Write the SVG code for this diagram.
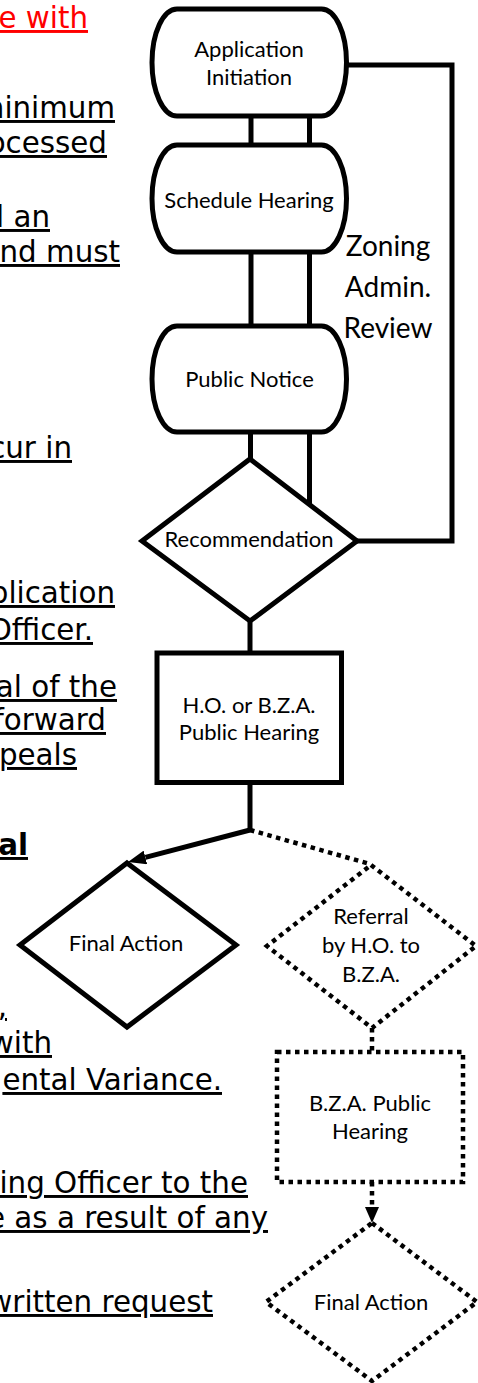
<svg xmlns="http://www.w3.org/2000/svg" width="478" height="1383" viewBox="0 0 478 1383">
<style>
.doc{font-family:"DejaVu Sans",Verdana,sans-serif;font-size:29.33px;fill:#000;text-decoration:underline;text-decoration-thickness:2px;text-anchor:end}
.red{fill:#ff0000}
.b{font-weight:bold;text-decoration-thickness:3px}
.n{fill:#fff;stroke:#000;stroke-width:5}
.d{fill:#fff;stroke:#000;stroke-width:4.5;stroke-dasharray:4.5 4.5}
.t{font-family:Lato,"Open Sans",sans-serif;font-size:22px;fill:#000;text-anchor:middle}
.big{font-size:28px}
.c{fill:none;stroke:#000;stroke-width:5;stroke-linejoin:miter}
.cd{fill:none;stroke:#000;stroke-width:4.5;stroke-dasharray:4.5 4.5}
</style>
<defs>
<marker id="arr" viewBox="0 0 18 14" refX="0" refY="7" markerWidth="18" markerHeight="14" markerUnits="userSpaceOnUse" orient="auto">
<path d="M0,0 L18,7 L0,14 z" fill="#000"/>
</marker>
<marker id="arr2" viewBox="0 0 16 14" refX="0" refY="7" markerWidth="16" markerHeight="14" markerUnits="userSpaceOnUse" orient="auto">
<path d="M0,0 L16,7 L0,14 z" fill="#000"/>
</marker>
</defs>
<rect width="478" height="1383" fill="#fff"/>

<g id="document-text">
<text class="doc red" x="88" y="28">e with</text>
<text class="doc" x="115" y="118">minimum</text>
<text class="doc" x="107" y="153">ocessed</text>
<text class="doc" x="50" y="227">l an</text>
<text class="doc" x="120" y="262">nd must</text>
<text class="doc" x="72" y="458">cur in</text>
<text class="doc" x="115" y="603">plication</text>
<text class="doc" x="93" y="640">Officer.</text>
<text class="doc" x="117" y="697">al of the</text>
<text class="doc" x="106" y="730">forward</text>
<text class="doc" x="77" y="765">peals</text>
<text class="doc b" x="28" y="855">al</text>
<text class="doc" x="7" y="1016">,</text>
<text class="doc" x="52" y="1053">with</text>
<text class="doc" x="222" y="1090">ental Variance.</text>
<text class="doc" x="248" y="1193">ing Officer to the</text>
<text class="doc" x="268" y="1228">e as a result of any</text>
<text class="doc" x="213" y="1312">written request</text>
</g>

<g id="connectors">
<line class="c" x1="251" y1="116" x2="251" y2="145"/>
<line class="c" x1="309.5" y1="116" x2="309.5" y2="145"/>
<line class="c" x1="251" y1="252" x2="251" y2="326"/>
<line class="c" x1="309.5" y1="252" x2="309.5" y2="326"/>
<line class="c" x1="250.5" y1="432" x2="250.5" y2="459"/>
<line class="c" x1="309.5" y1="432" x2="309.5" y2="505"/>
<polyline class="c" points="346,65 452,65 452,541 357,541"/>
<line class="c" x1="250" y1="621" x2="250" y2="653"/>
<line class="c" x1="250" y1="782" x2="250" y2="832"/>
<line class="c" x1="250" y1="830" x2="145.4" y2="857.4" marker-end="url(#arr)"/>
<line class="cd" x1="250" y1="830" x2="370" y2="864"/>
<line class="cd" x1="372" y1="1028" x2="372" y2="1052"/>
<line class="cd" x1="372" y1="1182" x2="372" y2="1207" marker-end="url(#arr2)"/>
<text class="t big" x="388" y="256">Zoning</text>
<text class="t big" x="388" y="297">Admin.</text>
<text class="t big" x="388" y="338">Review</text>
</g>

<g id="application-initiation">
<rect class="n" x="152" y="9" width="194.5" height="107" rx="25" ry="53.5"/>
<text class="t" x="249" y="57">Application</text>
<text class="t" x="249" y="85">Initiation</text>
</g>

<g id="schedule-hearing">
<rect class="n" x="152" y="145" width="194.5" height="107" rx="25" ry="53.5"/>
<text class="t" x="249" y="207.5">Schedule Hearing</text>
</g>

<g id="public-notice">
<rect class="n" x="152" y="326" width="194.5" height="106" rx="25" ry="53"/>
<text class="t" x="249.5" y="387">Public Notice</text>
</g>

<g id="recommendation">
<polygon class="n" points="250,459 357,541 250,621 142,541"/>
<text class="t" x="249" y="547">Recommendation</text>
</g>

<g id="public-hearing">
<rect class="n" x="157" y="653" width="184.5" height="129.5"/>
<text class="t" x="249" y="713">H.O. or B.Z.A.</text>
<text class="t" x="249" y="740">Public Hearing</text>
</g>

<g id="final-action">
<polygon class="n" points="127,863 236,945 127,1027 20,945"/>
<text class="t" x="126" y="951">Final Action</text>
</g>

<g id="referral">
<polygon class="d" points="371,865 476,946 372,1028 267,946"/>
<text class="t" x="371" y="924">Referral</text>
<text class="t" x="371" y="953">by H.O. to</text>
<text class="t" x="371" y="982">B.Z.A.</text>
</g>

<g id="bza-public-hearing">
<rect class="d" x="277" y="1052" width="186" height="130"/>
<text class="t" x="370" y="1111">B.Z.A. Public</text>
<text class="t" x="370" y="1139">Hearing</text>
</g>

<g id="final-action-bza">
<polygon class="d" points="372,1223 477,1302 372,1381 266,1302"/>
<text class="t" x="371" y="1310">Final Action</text>
</g>
</svg>
